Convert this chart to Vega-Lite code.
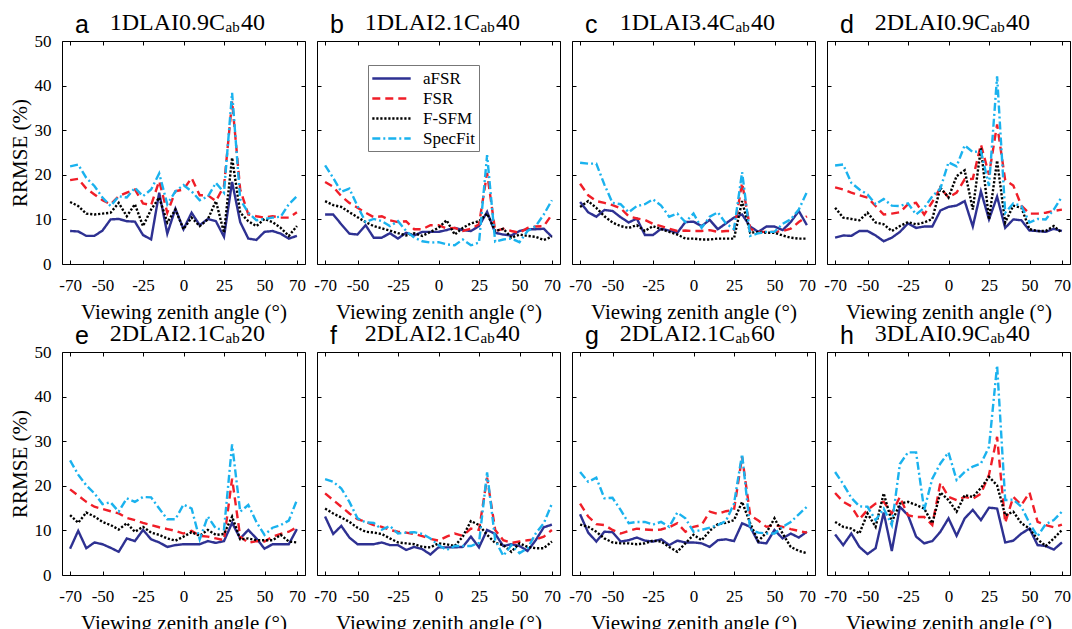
{
"$schema":"https://vega.github.io/schema/vega-lite/v6.json",
"padding":{"left":8,"top":10,"right":2,"bottom":2},
"background":"white",
"datasets":{
"titles":[
{"p":"a","t":"1DLAI0.9C","s":"ab","n":"40"},
{"p":"b","t":"1DLAI2.1C","s":"ab","n":"40"},
{"p":"c","t":"1DLAI3.4C","s":"ab","n":"40"},
{"p":"d","t":"2DLAI0.9C","s":"ab","n":"40"},
{"p":"e","t":"2DLAI2.1C","s":"ab","n":"20"},
{"p":"f","t":"2DLAI2.1C","s":"ab","n":"40"},
{"p":"g","t":"2DLAI2.1C","s":"ab","n":"60"},
{"p":"h","t":"3DLAI0.9C","s":"ab","n":"40"}
],
"rr":[
{"p":"a","m":"aFSR","x":-70,"y":7.4},{"p":"a","m":"aFSR","x":-65,"y":7.3},{"p":"a","m":"aFSR","x":-60,"y":6.3},{"p":"a","m":"aFSR","x":-55,"y":6.3},{"p":"a","m":"aFSR","x":-50,"y":7.5},{"p":"a","m":"aFSR","x":-45,"y":10.0},{"p":"a","m":"aFSR","x":-40,"y":10.1},{"p":"a","m":"aFSR","x":-35,"y":9.6},{"p":"a","m":"aFSR","x":-30,"y":9.5},{"p":"a","m":"aFSR","x":-25,"y":6.5},{"p":"a","m":"aFSR","x":-20,"y":5.5},{"p":"a","m":"aFSR","x":-15,"y":16.0},{"p":"a","m":"aFSR","x":-10,"y":6.8},{"p":"a","m":"aFSR","x":-5,"y":12.4},{"p":"a","m":"aFSR","x":0,"y":7.8},{"p":"a","m":"aFSR","x":5,"y":11.5},{"p":"a","m":"aFSR","x":10,"y":8.7},{"p":"a","m":"aFSR","x":15,"y":10.1},{"p":"a","m":"aFSR","x":20,"y":9.6},{"p":"a","m":"aFSR","x":25,"y":6.1},{"p":"a","m":"aFSR","x":30,"y":18.4},{"p":"a","m":"aFSR","x":35,"y":9.4},{"p":"a","m":"aFSR","x":40,"y":5.7},{"p":"a","m":"aFSR","x":45,"y":5.4},{"p":"a","m":"aFSR","x":50,"y":7.2},{"p":"a","m":"aFSR","x":55,"y":7.4},{"p":"a","m":"aFSR","x":60,"y":6.8},{"p":"a","m":"aFSR","x":65,"y":5.7},{"p":"a","m":"aFSR","x":70,"y":6.3},
{"p":"a","m":"FSR","x":-70,"y":18.8},{"p":"a","m":"FSR","x":-65,"y":19.1},{"p":"a","m":"FSR","x":-60,"y":16.9},{"p":"a","m":"FSR","x":-55,"y":15.6},{"p":"a","m":"FSR","x":-50,"y":14.3},{"p":"a","m":"FSR","x":-45,"y":13.4},{"p":"a","m":"FSR","x":-40,"y":15.2},{"p":"a","m":"FSR","x":-35,"y":16.0},{"p":"a","m":"FSR","x":-30,"y":16.7},{"p":"a","m":"FSR","x":-25,"y":13.6},{"p":"a","m":"FSR","x":-20,"y":13.2},{"p":"a","m":"FSR","x":-15,"y":18.6},{"p":"a","m":"FSR","x":-10,"y":11.5},{"p":"a","m":"FSR","x":-5,"y":16.3},{"p":"a","m":"FSR","x":0,"y":16.7},{"p":"a","m":"FSR","x":5,"y":19.3},{"p":"a","m":"FSR","x":10,"y":15.4},{"p":"a","m":"FSR","x":15,"y":15.4},{"p":"a","m":"FSR","x":20,"y":14.1},{"p":"a","m":"FSR","x":25,"y":17.5},{"p":"a","m":"FSR","x":30,"y":36.5},{"p":"a","m":"FSR","x":35,"y":16.7},{"p":"a","m":"FSR","x":40,"y":11.1},{"p":"a","m":"FSR","x":45,"y":10.7},{"p":"a","m":"FSR","x":50,"y":10.4},{"p":"a","m":"FSR","x":55,"y":10.7},{"p":"a","m":"FSR","x":60,"y":10.4},{"p":"a","m":"FSR","x":65,"y":10.4},{"p":"a","m":"FSR","x":70,"y":11.6},
{"p":"a","m":"F-SFM","x":-70,"y":13.9},{"p":"a","m":"F-SFM","x":-65,"y":13.0},{"p":"a","m":"F-SFM","x":-60,"y":11.3},{"p":"a","m":"F-SFM","x":-55,"y":11.1},{"p":"a","m":"F-SFM","x":-50,"y":11.3},{"p":"a","m":"F-SFM","x":-45,"y":11.5},{"p":"a","m":"F-SFM","x":-40,"y":13.7},{"p":"a","m":"F-SFM","x":-35,"y":10.7},{"p":"a","m":"F-SFM","x":-30,"y":13.4},{"p":"a","m":"F-SFM","x":-25,"y":8.5},{"p":"a","m":"F-SFM","x":-20,"y":12.2},{"p":"a","m":"F-SFM","x":-15,"y":14.9},{"p":"a","m":"F-SFM","x":-10,"y":9.3},{"p":"a","m":"F-SFM","x":-5,"y":12.2},{"p":"a","m":"F-SFM","x":0,"y":7.8},{"p":"a","m":"F-SFM","x":5,"y":10.4},{"p":"a","m":"F-SFM","x":10,"y":8.5},{"p":"a","m":"F-SFM","x":15,"y":10.0},{"p":"a","m":"F-SFM","x":20,"y":14.1},{"p":"a","m":"F-SFM","x":25,"y":7.0},{"p":"a","m":"F-SFM","x":30,"y":23.8},{"p":"a","m":"F-SFM","x":35,"y":11.5},{"p":"a","m":"F-SFM","x":40,"y":9.6},{"p":"a","m":"F-SFM","x":45,"y":8.5},{"p":"a","m":"F-SFM","x":50,"y":10.1},{"p":"a","m":"F-SFM","x":55,"y":9.4},{"p":"a","m":"F-SFM","x":60,"y":8.1},{"p":"a","m":"F-SFM","x":65,"y":6.3},{"p":"a","m":"F-SFM","x":70,"y":8.5},
{"p":"a","m":"SpecFit","x":-70,"y":21.9},{"p":"a","m":"SpecFit","x":-65,"y":22.3},{"p":"a","m":"SpecFit","x":-60,"y":19.3},{"p":"a","m":"SpecFit","x":-55,"y":17.5},{"p":"a","m":"SpecFit","x":-50,"y":14.9},{"p":"a","m":"SpecFit","x":-45,"y":13.0},{"p":"a","m":"SpecFit","x":-40,"y":15.2},{"p":"a","m":"SpecFit","x":-35,"y":14.9},{"p":"a","m":"SpecFit","x":-30,"y":17.1},{"p":"a","m":"SpecFit","x":-25,"y":15.2},{"p":"a","m":"SpecFit","x":-20,"y":16.7},{"p":"a","m":"SpecFit","x":-15,"y":20.3},{"p":"a","m":"SpecFit","x":-10,"y":13.4},{"p":"a","m":"SpecFit","x":-5,"y":16.3},{"p":"a","m":"SpecFit","x":0,"y":17.7},{"p":"a","m":"SpecFit","x":5,"y":16.3},{"p":"a","m":"SpecFit","x":10,"y":14.3},{"p":"a","m":"SpecFit","x":15,"y":15.1},{"p":"a","m":"SpecFit","x":20,"y":18.2},{"p":"a","m":"SpecFit","x":25,"y":16.0},{"p":"a","m":"SpecFit","x":30,"y":38.4},{"p":"a","m":"SpecFit","x":35,"y":14.5},{"p":"a","m":"SpecFit","x":40,"y":11.5},{"p":"a","m":"SpecFit","x":45,"y":9.8},{"p":"a","m":"SpecFit","x":50,"y":10.1},{"p":"a","m":"SpecFit","x":55,"y":10.4},{"p":"a","m":"SpecFit","x":60,"y":10.6},{"p":"a","m":"SpecFit","x":65,"y":13.4},{"p":"a","m":"SpecFit","x":70,"y":15.2},
{"p":"b","m":"aFSR","x":-70,"y":11.1},{"p":"b","m":"aFSR","x":-65,"y":11.1},{"p":"b","m":"aFSR","x":-60,"y":8.9},{"p":"b","m":"aFSR","x":-55,"y":6.8},{"p":"b","m":"aFSR","x":-50,"y":6.6},{"p":"b","m":"aFSR","x":-45,"y":8.7},{"p":"b","m":"aFSR","x":-40,"y":5.9},{"p":"b","m":"aFSR","x":-35,"y":5.9},{"p":"b","m":"aFSR","x":-30,"y":6.9},{"p":"b","m":"aFSR","x":-25,"y":5.7},{"p":"b","m":"aFSR","x":-20,"y":7.0},{"p":"b","m":"aFSR","x":-15,"y":6.4},{"p":"b","m":"aFSR","x":-10,"y":7.2},{"p":"b","m":"aFSR","x":-5,"y":7.2},{"p":"b","m":"aFSR","x":0,"y":7.2},{"p":"b","m":"aFSR","x":5,"y":7.6},{"p":"b","m":"aFSR","x":10,"y":8.1},{"p":"b","m":"aFSR","x":15,"y":7.6},{"p":"b","m":"aFSR","x":20,"y":7.4},{"p":"b","m":"aFSR","x":25,"y":8.5},{"p":"b","m":"aFSR","x":30,"y":11.7},{"p":"b","m":"aFSR","x":35,"y":7.0},{"p":"b","m":"aFSR","x":40,"y":6.6},{"p":"b","m":"aFSR","x":45,"y":6.4},{"p":"b","m":"aFSR","x":50,"y":7.4},{"p":"b","m":"aFSR","x":55,"y":7.8},{"p":"b","m":"aFSR","x":60,"y":7.8},{"p":"b","m":"aFSR","x":65,"y":7.9},{"p":"b","m":"aFSR","x":70,"y":6.1},
{"p":"b","m":"FSR","x":-70,"y":18.4},{"p":"b","m":"FSR","x":-65,"y":17.3},{"p":"b","m":"FSR","x":-60,"y":15.2},{"p":"b","m":"FSR","x":-55,"y":13.7},{"p":"b","m":"FSR","x":-50,"y":12.6},{"p":"b","m":"FSR","x":-45,"y":11.5},{"p":"b","m":"FSR","x":-40,"y":10.5},{"p":"b","m":"FSR","x":-35,"y":10.7},{"p":"b","m":"FSR","x":-30,"y":9.8},{"p":"b","m":"FSR","x":-25,"y":9.4},{"p":"b","m":"FSR","x":-20,"y":9.6},{"p":"b","m":"FSR","x":-15,"y":7.8},{"p":"b","m":"FSR","x":-10,"y":7.8},{"p":"b","m":"FSR","x":-5,"y":8.7},{"p":"b","m":"FSR","x":0,"y":8.7},{"p":"b","m":"FSR","x":5,"y":8.0},{"p":"b","m":"FSR","x":10,"y":8.1},{"p":"b","m":"FSR","x":15,"y":7.4},{"p":"b","m":"FSR","x":20,"y":7.9},{"p":"b","m":"FSR","x":25,"y":8.9},{"p":"b","m":"FSR","x":30,"y":20.4},{"p":"b","m":"FSR","x":35,"y":7.4},{"p":"b","m":"FSR","x":40,"y":7.9},{"p":"b","m":"FSR","x":45,"y":7.4},{"p":"b","m":"FSR","x":50,"y":7.0},{"p":"b","m":"FSR","x":55,"y":8.1},{"p":"b","m":"FSR","x":60,"y":8.4},{"p":"b","m":"FSR","x":65,"y":8.5},{"p":"b","m":"FSR","x":70,"y":11.1},
{"p":"b","m":"F-SFM","x":-70,"y":14.1},{"p":"b","m":"F-SFM","x":-65,"y":13.2},{"p":"b","m":"F-SFM","x":-60,"y":12.8},{"p":"b","m":"F-SFM","x":-55,"y":11.6},{"p":"b","m":"F-SFM","x":-50,"y":10.5},{"p":"b","m":"F-SFM","x":-45,"y":9.4},{"p":"b","m":"F-SFM","x":-40,"y":8.5},{"p":"b","m":"F-SFM","x":-35,"y":8.0},{"p":"b","m":"F-SFM","x":-30,"y":7.5},{"p":"b","m":"F-SFM","x":-25,"y":6.9},{"p":"b","m":"F-SFM","x":-20,"y":6.4},{"p":"b","m":"F-SFM","x":-15,"y":6.9},{"p":"b","m":"F-SFM","x":-10,"y":6.3},{"p":"b","m":"F-SFM","x":-5,"y":7.2},{"p":"b","m":"F-SFM","x":0,"y":8.1},{"p":"b","m":"F-SFM","x":5,"y":9.8},{"p":"b","m":"F-SFM","x":10,"y":6.6},{"p":"b","m":"F-SFM","x":15,"y":8.1},{"p":"b","m":"F-SFM","x":20,"y":9.1},{"p":"b","m":"F-SFM","x":25,"y":9.6},{"p":"b","m":"F-SFM","x":30,"y":11.3},{"p":"b","m":"F-SFM","x":35,"y":7.4},{"p":"b","m":"F-SFM","x":40,"y":7.9},{"p":"b","m":"F-SFM","x":45,"y":5.9},{"p":"b","m":"F-SFM","x":50,"y":6.6},{"p":"b","m":"F-SFM","x":55,"y":6.3},{"p":"b","m":"F-SFM","x":60,"y":6.1},{"p":"b","m":"F-SFM","x":65,"y":5.4},{"p":"b","m":"F-SFM","x":70,"y":6.1},
{"p":"b","m":"SpecFit","x":-70,"y":22.1},{"p":"b","m":"SpecFit","x":-65,"y":19.3},{"p":"b","m":"SpecFit","x":-60,"y":16.2},{"p":"b","m":"SpecFit","x":-55,"y":16.9},{"p":"b","m":"SpecFit","x":-50,"y":13.0},{"p":"b","m":"SpecFit","x":-45,"y":9.4},{"p":"b","m":"SpecFit","x":-40,"y":10.1},{"p":"b","m":"SpecFit","x":-35,"y":9.6},{"p":"b","m":"SpecFit","x":-30,"y":8.5},{"p":"b","m":"SpecFit","x":-25,"y":9.6},{"p":"b","m":"SpecFit","x":-20,"y":7.4},{"p":"b","m":"SpecFit","x":-15,"y":5.9},{"p":"b","m":"SpecFit","x":-10,"y":5.1},{"p":"b","m":"SpecFit","x":-5,"y":4.8},{"p":"b","m":"SpecFit","x":0,"y":4.9},{"p":"b","m":"SpecFit","x":5,"y":4.4},{"p":"b","m":"SpecFit","x":10,"y":4.2},{"p":"b","m":"SpecFit","x":15,"y":5.5},{"p":"b","m":"SpecFit","x":20,"y":4.2},{"p":"b","m":"SpecFit","x":25,"y":4.8},{"p":"b","m":"SpecFit","x":30,"y":24.4},{"p":"b","m":"SpecFit","x":35,"y":5.0},{"p":"b","m":"SpecFit","x":40,"y":5.5},{"p":"b","m":"SpecFit","x":45,"y":5.7},{"p":"b","m":"SpecFit","x":50,"y":4.9},{"p":"b","m":"SpecFit","x":55,"y":7.4},{"p":"b","m":"SpecFit","x":60,"y":8.5},{"p":"b","m":"SpecFit","x":65,"y":11.1},{"p":"b","m":"SpecFit","x":70,"y":14.3},
{"p":"c","m":"aFSR","x":-70,"y":13.9},{"p":"c","m":"aFSR","x":-65,"y":11.6},{"p":"c","m":"aFSR","x":-60,"y":10.6},{"p":"c","m":"aFSR","x":-55,"y":12.1},{"p":"c","m":"aFSR","x":-50,"y":11.9},{"p":"c","m":"aFSR","x":-45,"y":10.5},{"p":"c","m":"aFSR","x":-40,"y":9.3},{"p":"c","m":"aFSR","x":-35,"y":10.2},{"p":"c","m":"aFSR","x":-30,"y":6.5},{"p":"c","m":"aFSR","x":-25,"y":6.5},{"p":"c","m":"aFSR","x":-20,"y":7.9},{"p":"c","m":"aFSR","x":-15,"y":7.5},{"p":"c","m":"aFSR","x":-10,"y":7.0},{"p":"c","m":"aFSR","x":-5,"y":9.4},{"p":"c","m":"aFSR","x":0,"y":9.5},{"p":"c","m":"aFSR","x":5,"y":8.5},{"p":"c","m":"aFSR","x":10,"y":9.9},{"p":"c","m":"aFSR","x":15,"y":7.8},{"p":"c","m":"aFSR","x":20,"y":9.1},{"p":"c","m":"aFSR","x":25,"y":10.4},{"p":"c","m":"aFSR","x":30,"y":11.1},{"p":"c","m":"aFSR","x":35,"y":8.4},{"p":"c","m":"aFSR","x":40,"y":7.2},{"p":"c","m":"aFSR","x":45,"y":8.4},{"p":"c","m":"aFSR","x":50,"y":8.4},{"p":"c","m":"aFSR","x":55,"y":7.6},{"p":"c","m":"aFSR","x":60,"y":9.4},{"p":"c","m":"aFSR","x":65,"y":11.9},{"p":"c","m":"aFSR","x":70,"y":8.7},
{"p":"c","m":"FSR","x":-70,"y":18.0},{"p":"c","m":"FSR","x":-65,"y":15.4},{"p":"c","m":"FSR","x":-60,"y":14.1},{"p":"c","m":"FSR","x":-55,"y":13.7},{"p":"c","m":"FSR","x":-50,"y":13.2},{"p":"c","m":"FSR","x":-45,"y":12.5},{"p":"c","m":"FSR","x":-40,"y":10.7},{"p":"c","m":"FSR","x":-35,"y":10.2},{"p":"c","m":"FSR","x":-30,"y":9.9},{"p":"c","m":"FSR","x":-25,"y":9.0},{"p":"c","m":"FSR","x":-20,"y":8.5},{"p":"c","m":"FSR","x":-15,"y":7.9},{"p":"c","m":"FSR","x":-10,"y":7.4},{"p":"c","m":"FSR","x":-5,"y":7.5},{"p":"c","m":"FSR","x":0,"y":7.4},{"p":"c","m":"FSR","x":5,"y":7.4},{"p":"c","m":"FSR","x":10,"y":7.6},{"p":"c","m":"FSR","x":15,"y":7.2},{"p":"c","m":"FSR","x":20,"y":7.4},{"p":"c","m":"FSR","x":25,"y":7.4},{"p":"c","m":"FSR","x":30,"y":18.2},{"p":"c","m":"FSR","x":35,"y":7.9},{"p":"c","m":"FSR","x":40,"y":7.2},{"p":"c","m":"FSR","x":45,"y":7.2},{"p":"c","m":"FSR","x":50,"y":7.2},{"p":"c","m":"FSR","x":55,"y":7.4},{"p":"c","m":"FSR","x":60,"y":7.9},{"p":"c","m":"FSR","x":65,"y":9.4},{"p":"c","m":"FSR","x":70,"y":10.7},
{"p":"c","m":"F-SFM","x":-70,"y":12.8},{"p":"c","m":"F-SFM","x":-65,"y":14.1},{"p":"c","m":"F-SFM","x":-60,"y":12.6},{"p":"c","m":"F-SFM","x":-55,"y":10.7},{"p":"c","m":"F-SFM","x":-50,"y":9.3},{"p":"c","m":"F-SFM","x":-45,"y":8.5},{"p":"c","m":"F-SFM","x":-40,"y":8.1},{"p":"c","m":"F-SFM","x":-35,"y":8.7},{"p":"c","m":"F-SFM","x":-30,"y":7.4},{"p":"c","m":"F-SFM","x":-25,"y":8.5},{"p":"c","m":"F-SFM","x":-20,"y":7.8},{"p":"c","m":"F-SFM","x":-15,"y":7.2},{"p":"c","m":"F-SFM","x":-10,"y":6.6},{"p":"c","m":"F-SFM","x":-5,"y":5.7},{"p":"c","m":"F-SFM","x":0,"y":5.7},{"p":"c","m":"F-SFM","x":5,"y":5.5},{"p":"c","m":"F-SFM","x":10,"y":5.5},{"p":"c","m":"F-SFM","x":15,"y":5.7},{"p":"c","m":"F-SFM","x":20,"y":5.7},{"p":"c","m":"F-SFM","x":25,"y":5.7},{"p":"c","m":"F-SFM","x":30,"y":14.1},{"p":"c","m":"F-SFM","x":35,"y":7.0},{"p":"c","m":"F-SFM","x":40,"y":7.2},{"p":"c","m":"F-SFM","x":45,"y":7.0},{"p":"c","m":"F-SFM","x":50,"y":7.0},{"p":"c","m":"F-SFM","x":55,"y":6.4},{"p":"c","m":"F-SFM","x":60,"y":5.9},{"p":"c","m":"F-SFM","x":65,"y":5.7},{"p":"c","m":"F-SFM","x":70,"y":5.7},
{"p":"c","m":"SpecFit","x":-70,"y":22.7},{"p":"c","m":"SpecFit","x":-65,"y":22.5},{"p":"c","m":"SpecFit","x":-60,"y":22.5},{"p":"c","m":"SpecFit","x":-55,"y":17.8},{"p":"c","m":"SpecFit","x":-50,"y":13.7},{"p":"c","m":"SpecFit","x":-45,"y":13.4},{"p":"c","m":"SpecFit","x":-40,"y":11.6},{"p":"c","m":"SpecFit","x":-35,"y":13.0},{"p":"c","m":"SpecFit","x":-30,"y":13.4},{"p":"c","m":"SpecFit","x":-25,"y":14.5},{"p":"c","m":"SpecFit","x":-20,"y":13.1},{"p":"c","m":"SpecFit","x":-15,"y":10.6},{"p":"c","m":"SpecFit","x":-10,"y":11.3},{"p":"c","m":"SpecFit","x":-5,"y":9.4},{"p":"c","m":"SpecFit","x":0,"y":11.3},{"p":"c","m":"SpecFit","x":5,"y":8.1},{"p":"c","m":"SpecFit","x":10,"y":10.6},{"p":"c","m":"SpecFit","x":15,"y":11.6},{"p":"c","m":"SpecFit","x":20,"y":9.1},{"p":"c","m":"SpecFit","x":25,"y":7.8},{"p":"c","m":"SpecFit","x":30,"y":20.6},{"p":"c","m":"SpecFit","x":35,"y":6.3},{"p":"c","m":"SpecFit","x":40,"y":6.9},{"p":"c","m":"SpecFit","x":45,"y":7.2},{"p":"c","m":"SpecFit","x":50,"y":7.2},{"p":"c","m":"SpecFit","x":55,"y":9.0},{"p":"c","m":"SpecFit","x":60,"y":10.0},{"p":"c","m":"SpecFit","x":65,"y":12.2},{"p":"c","m":"SpecFit","x":70,"y":16.1},
{"p":"d","m":"aFSR","x":-70,"y":5.9},{"p":"d","m":"aFSR","x":-65,"y":6.4},{"p":"d","m":"aFSR","x":-60,"y":6.3},{"p":"d","m":"aFSR","x":-55,"y":7.4},{"p":"d","m":"aFSR","x":-50,"y":7.4},{"p":"d","m":"aFSR","x":-45,"y":6.4},{"p":"d","m":"aFSR","x":-40,"y":5.1},{"p":"d","m":"aFSR","x":-35,"y":5.9},{"p":"d","m":"aFSR","x":-30,"y":7.2},{"p":"d","m":"aFSR","x":-25,"y":9.1},{"p":"d","m":"aFSR","x":-20,"y":8.1},{"p":"d","m":"aFSR","x":-15,"y":8.4},{"p":"d","m":"aFSR","x":-10,"y":8.4},{"p":"d","m":"aFSR","x":-5,"y":12.0},{"p":"d","m":"aFSR","x":0,"y":12.8},{"p":"d","m":"aFSR","x":5,"y":13.1},{"p":"d","m":"aFSR","x":10,"y":14.1},{"p":"d","m":"aFSR","x":15,"y":8.4},{"p":"d","m":"aFSR","x":20,"y":16.3},{"p":"d","m":"aFSR","x":25,"y":10.0},{"p":"d","m":"aFSR","x":30,"y":15.1},{"p":"d","m":"aFSR","x":35,"y":8.1},{"p":"d","m":"aFSR","x":40,"y":10.0},{"p":"d","m":"aFSR","x":45,"y":9.8},{"p":"d","m":"aFSR","x":50,"y":7.5},{"p":"d","m":"aFSR","x":55,"y":7.4},{"p":"d","m":"aFSR","x":60,"y":7.2},{"p":"d","m":"aFSR","x":65,"y":7.9},{"p":"d","m":"aFSR","x":70,"y":7.4},
{"p":"d","m":"FSR","x":-70,"y":17.2},{"p":"d","m":"FSR","x":-65,"y":16.7},{"p":"d","m":"FSR","x":-60,"y":16.0},{"p":"d","m":"FSR","x":-55,"y":15.4},{"p":"d","m":"FSR","x":-50,"y":14.9},{"p":"d","m":"FSR","x":-45,"y":13.0},{"p":"d","m":"FSR","x":-40,"y":11.1},{"p":"d","m":"FSR","x":-35,"y":11.3},{"p":"d","m":"FSR","x":-30,"y":11.6},{"p":"d","m":"FSR","x":-25,"y":13.4},{"p":"d","m":"FSR","x":-20,"y":13.7},{"p":"d","m":"FSR","x":-15,"y":11.1},{"p":"d","m":"FSR","x":-10,"y":13.9},{"p":"d","m":"FSR","x":-5,"y":17.1},{"p":"d","m":"FSR","x":0,"y":14.9},{"p":"d","m":"FSR","x":5,"y":16.0},{"p":"d","m":"FSR","x":10,"y":19.0},{"p":"d","m":"FSR","x":15,"y":19.1},{"p":"d","m":"FSR","x":20,"y":26.8},{"p":"d","m":"FSR","x":25,"y":20.0},{"p":"d","m":"FSR","x":30,"y":31.3},{"p":"d","m":"FSR","x":35,"y":18.8},{"p":"d","m":"FSR","x":40,"y":17.6},{"p":"d","m":"FSR","x":45,"y":13.1},{"p":"d","m":"FSR","x":50,"y":11.3},{"p":"d","m":"FSR","x":55,"y":11.3},{"p":"d","m":"FSR","x":60,"y":11.5},{"p":"d","m":"FSR","x":65,"y":11.9},{"p":"d","m":"FSR","x":70,"y":12.2},
{"p":"d","m":"F-SFM","x":-70,"y":12.6},{"p":"d","m":"F-SFM","x":-65,"y":10.4},{"p":"d","m":"F-SFM","x":-60,"y":10.1},{"p":"d","m":"F-SFM","x":-55,"y":9.8},{"p":"d","m":"F-SFM","x":-50,"y":11.5},{"p":"d","m":"F-SFM","x":-45,"y":9.3},{"p":"d","m":"F-SFM","x":-40,"y":8.9},{"p":"d","m":"F-SFM","x":-35,"y":7.4},{"p":"d","m":"F-SFM","x":-30,"y":8.5},{"p":"d","m":"F-SFM","x":-25,"y":9.4},{"p":"d","m":"F-SFM","x":-20,"y":8.9},{"p":"d","m":"F-SFM","x":-15,"y":9.3},{"p":"d","m":"F-SFM","x":-10,"y":10.1},{"p":"d","m":"F-SFM","x":-5,"y":17.1},{"p":"d","m":"F-SFM","x":0,"y":14.9},{"p":"d","m":"F-SFM","x":5,"y":19.7},{"p":"d","m":"F-SFM","x":10,"y":21.0},{"p":"d","m":"F-SFM","x":15,"y":12.2},{"p":"d","m":"F-SFM","x":20,"y":26.0},{"p":"d","m":"F-SFM","x":25,"y":10.0},{"p":"d","m":"F-SFM","x":30,"y":23.2},{"p":"d","m":"F-SFM","x":35,"y":9.3},{"p":"d","m":"F-SFM","x":40,"y":13.1},{"p":"d","m":"F-SFM","x":45,"y":12.6},{"p":"d","m":"F-SFM","x":50,"y":7.8},{"p":"d","m":"F-SFM","x":55,"y":7.4},{"p":"d","m":"F-SFM","x":60,"y":7.4},{"p":"d","m":"F-SFM","x":65,"y":8.5},{"p":"d","m":"F-SFM","x":70,"y":7.0},
{"p":"d","m":"SpecFit","x":-70,"y":22.1},{"p":"d","m":"SpecFit","x":-65,"y":22.3},{"p":"d","m":"SpecFit","x":-60,"y":18.2},{"p":"d","m":"SpecFit","x":-55,"y":16.7},{"p":"d","m":"SpecFit","x":-50,"y":15.6},{"p":"d","m":"SpecFit","x":-45,"y":13.4},{"p":"d","m":"SpecFit","x":-40,"y":14.6},{"p":"d","m":"SpecFit","x":-35,"y":13.1},{"p":"d","m":"SpecFit","x":-30,"y":13.0},{"p":"d","m":"SpecFit","x":-25,"y":13.6},{"p":"d","m":"SpecFit","x":-20,"y":11.1},{"p":"d","m":"SpecFit","x":-15,"y":12.6},{"p":"d","m":"SpecFit","x":-10,"y":15.2},{"p":"d","m":"SpecFit","x":-5,"y":16.9},{"p":"d","m":"SpecFit","x":0,"y":22.8},{"p":"d","m":"SpecFit","x":5,"y":21.9},{"p":"d","m":"SpecFit","x":10,"y":26.6},{"p":"d","m":"SpecFit","x":15,"y":25.1},{"p":"d","m":"SpecFit","x":20,"y":25.3},{"p":"d","m":"SpecFit","x":25,"y":17.5},{"p":"d","m":"SpecFit","x":30,"y":42.1},{"p":"d","m":"SpecFit","x":35,"y":11.5},{"p":"d","m":"SpecFit","x":40,"y":13.6},{"p":"d","m":"SpecFit","x":45,"y":13.0},{"p":"d","m":"SpecFit","x":50,"y":9.3},{"p":"d","m":"SpecFit","x":55,"y":10.1},{"p":"d","m":"SpecFit","x":60,"y":10.0},{"p":"d","m":"SpecFit","x":65,"y":12.2},{"p":"d","m":"SpecFit","x":70,"y":15.1},
{"p":"e","m":"aFSR","x":-70,"y":5.9},{"p":"e","m":"aFSR","x":-65,"y":9.9},{"p":"e","m":"aFSR","x":-60,"y":6.0},{"p":"e","m":"aFSR","x":-55,"y":7.3},{"p":"e","m":"aFSR","x":-50,"y":6.9},{"p":"e","m":"aFSR","x":-45,"y":6.1},{"p":"e","m":"aFSR","x":-40,"y":5.2},{"p":"e","m":"aFSR","x":-35,"y":8.2},{"p":"e","m":"aFSR","x":-30,"y":7.6},{"p":"e","m":"aFSR","x":-25,"y":10.1},{"p":"e","m":"aFSR","x":-20,"y":8.0},{"p":"e","m":"aFSR","x":-15,"y":7.3},{"p":"e","m":"aFSR","x":-10,"y":6.3},{"p":"e","m":"aFSR","x":-5,"y":6.7},{"p":"e","m":"aFSR","x":0,"y":6.9},{"p":"e","m":"aFSR","x":5,"y":6.9},{"p":"e","m":"aFSR","x":10,"y":6.9},{"p":"e","m":"aFSR","x":15,"y":7.6},{"p":"e","m":"aFSR","x":20,"y":7.2},{"p":"e","m":"aFSR","x":25,"y":7.6},{"p":"e","m":"aFSR","x":30,"y":11.7},{"p":"e","m":"aFSR","x":35,"y":8.2},{"p":"e","m":"aFSR","x":40,"y":10.1},{"p":"e","m":"aFSR","x":45,"y":8.2},{"p":"e","m":"aFSR","x":50,"y":5.9},{"p":"e","m":"aFSR","x":55,"y":6.9},{"p":"e","m":"aFSR","x":60,"y":6.9},{"p":"e","m":"aFSR","x":65,"y":6.9},{"p":"e","m":"aFSR","x":70,"y":10.3},
{"p":"e","m":"FSR","x":-70,"y":19.2},{"p":"e","m":"FSR","x":-65,"y":17.8},{"p":"e","m":"FSR","x":-60,"y":16.4},{"p":"e","m":"FSR","x":-55,"y":15.3},{"p":"e","m":"FSR","x":-50,"y":14.8},{"p":"e","m":"FSR","x":-45,"y":14.3},{"p":"e","m":"FSR","x":-40,"y":13.8},{"p":"e","m":"FSR","x":-35,"y":12.8},{"p":"e","m":"FSR","x":-30,"y":12.3},{"p":"e","m":"FSR","x":-25,"y":11.7},{"p":"e","m":"FSR","x":-20,"y":11.2},{"p":"e","m":"FSR","x":-15,"y":10.7},{"p":"e","m":"FSR","x":-10,"y":10.3},{"p":"e","m":"FSR","x":-5,"y":9.9},{"p":"e","m":"FSR","x":0,"y":9.3},{"p":"e","m":"FSR","x":5,"y":9.9},{"p":"e","m":"FSR","x":10,"y":8.8},{"p":"e","m":"FSR","x":15,"y":8.6},{"p":"e","m":"FSR","x":20,"y":8.2},{"p":"e","m":"FSR","x":25,"y":7.8},{"p":"e","m":"FSR","x":30,"y":21.6},{"p":"e","m":"FSR","x":35,"y":8.6},{"p":"e","m":"FSR","x":40,"y":7.2},{"p":"e","m":"FSR","x":45,"y":7.6},{"p":"e","m":"FSR","x":50,"y":7.5},{"p":"e","m":"FSR","x":55,"y":8.6},{"p":"e","m":"FSR","x":60,"y":9.2},{"p":"e","m":"FSR","x":65,"y":9.7},{"p":"e","m":"FSR","x":70,"y":10.7},
{"p":"e","m":"F-SFM","x":-70,"y":13.4},{"p":"e","m":"F-SFM","x":-65,"y":11.7},{"p":"e","m":"F-SFM","x":-60,"y":14.0},{"p":"e","m":"F-SFM","x":-55,"y":13.1},{"p":"e","m":"F-SFM","x":-50,"y":11.9},{"p":"e","m":"F-SFM","x":-45,"y":11.2},{"p":"e","m":"F-SFM","x":-40,"y":10.2},{"p":"e","m":"F-SFM","x":-35,"y":11.6},{"p":"e","m":"F-SFM","x":-30,"y":9.7},{"p":"e","m":"F-SFM","x":-25,"y":10.8},{"p":"e","m":"F-SFM","x":-20,"y":9.5},{"p":"e","m":"F-SFM","x":-15,"y":9.0},{"p":"e","m":"F-SFM","x":-10,"y":8.2},{"p":"e","m":"F-SFM","x":-5,"y":7.7},{"p":"e","m":"F-SFM","x":0,"y":8.6},{"p":"e","m":"F-SFM","x":5,"y":9.6},{"p":"e","m":"F-SFM","x":10,"y":8.8},{"p":"e","m":"F-SFM","x":15,"y":10.1},{"p":"e","m":"F-SFM","x":20,"y":9.0},{"p":"e","m":"F-SFM","x":25,"y":9.2},{"p":"e","m":"F-SFM","x":30,"y":13.1},{"p":"e","m":"F-SFM","x":35,"y":8.0},{"p":"e","m":"F-SFM","x":40,"y":8.2},{"p":"e","m":"F-SFM","x":45,"y":7.8},{"p":"e","m":"F-SFM","x":50,"y":7.8},{"p":"e","m":"F-SFM","x":55,"y":7.8},{"p":"e","m":"F-SFM","x":60,"y":9.0},{"p":"e","m":"F-SFM","x":65,"y":7.5},{"p":"e","m":"F-SFM","x":70,"y":7.3},
{"p":"e","m":"SpecFit","x":-70,"y":25.7},{"p":"e","m":"SpecFit","x":-65,"y":22.5},{"p":"e","m":"SpecFit","x":-60,"y":20.1},{"p":"e","m":"SpecFit","x":-55,"y":18.3},{"p":"e","m":"SpecFit","x":-50,"y":15.9},{"p":"e","m":"SpecFit","x":-45,"y":16.3},{"p":"e","m":"SpecFit","x":-40,"y":14.2},{"p":"e","m":"SpecFit","x":-35,"y":17.2},{"p":"e","m":"SpecFit","x":-30,"y":16.4},{"p":"e","m":"SpecFit","x":-25,"y":17.5},{"p":"e","m":"SpecFit","x":-20,"y":17.4},{"p":"e","m":"SpecFit","x":-15,"y":14.9},{"p":"e","m":"SpecFit","x":-10,"y":12.5},{"p":"e","m":"SpecFit","x":-5,"y":12.5},{"p":"e","m":"SpecFit","x":0,"y":15.8},{"p":"e","m":"SpecFit","x":5,"y":14.9},{"p":"e","m":"SpecFit","x":10,"y":8.0},{"p":"e","m":"SpecFit","x":15,"y":13.1},{"p":"e","m":"SpecFit","x":20,"y":10.4},{"p":"e","m":"SpecFit","x":25,"y":10.2},{"p":"e","m":"SpecFit","x":30,"y":29.3},{"p":"e","m":"SpecFit","x":35,"y":14.2},{"p":"e","m":"SpecFit","x":40,"y":15.7},{"p":"e","m":"SpecFit","x":45,"y":11.9},{"p":"e","m":"SpecFit","x":50,"y":9.0},{"p":"e","m":"SpecFit","x":55,"y":10.6},{"p":"e","m":"SpecFit","x":60,"y":11.2},{"p":"e","m":"SpecFit","x":65,"y":12.2},{"p":"e","m":"SpecFit","x":70,"y":16.8},
{"p":"f","m":"aFSR","x":-70,"y":13.1},{"p":"f","m":"aFSR","x":-65,"y":9.2},{"p":"f","m":"aFSR","x":-60,"y":11.0},{"p":"f","m":"aFSR","x":-55,"y":8.4},{"p":"f","m":"aFSR","x":-50,"y":6.9},{"p":"f","m":"aFSR","x":-45,"y":6.9},{"p":"f","m":"aFSR","x":-40,"y":6.9},{"p":"f","m":"aFSR","x":-35,"y":7.3},{"p":"f","m":"aFSR","x":-30,"y":6.7},{"p":"f","m":"aFSR","x":-25,"y":6.7},{"p":"f","m":"aFSR","x":-20,"y":5.6},{"p":"f","m":"aFSR","x":-15,"y":6.3},{"p":"f","m":"aFSR","x":-10,"y":5.8},{"p":"f","m":"aFSR","x":-5,"y":4.6},{"p":"f","m":"aFSR","x":0,"y":6.2},{"p":"f","m":"aFSR","x":5,"y":6.2},{"p":"f","m":"aFSR","x":10,"y":6.2},{"p":"f","m":"aFSR","x":15,"y":6.3},{"p":"f","m":"aFSR","x":20,"y":8.6},{"p":"f","m":"aFSR","x":25,"y":6.2},{"p":"f","m":"aFSR","x":30,"y":10.1},{"p":"f","m":"aFSR","x":35,"y":9.2},{"p":"f","m":"aFSR","x":40,"y":6.5},{"p":"f","m":"aFSR","x":45,"y":6.9},{"p":"f","m":"aFSR","x":50,"y":6.5},{"p":"f","m":"aFSR","x":55,"y":5.4},{"p":"f","m":"aFSR","x":60,"y":7.8},{"p":"f","m":"aFSR","x":65,"y":10.7},{"p":"f","m":"aFSR","x":70,"y":11.3},
{"p":"f","m":"FSR","x":-70,"y":18.3},{"p":"f","m":"FSR","x":-65,"y":16.8},{"p":"f","m":"FSR","x":-60,"y":15.3},{"p":"f","m":"FSR","x":-55,"y":13.8},{"p":"f","m":"FSR","x":-50,"y":12.5},{"p":"f","m":"FSR","x":-45,"y":11.9},{"p":"f","m":"FSR","x":-40,"y":11.2},{"p":"f","m":"FSR","x":-35,"y":10.8},{"p":"f","m":"FSR","x":-30,"y":10.1},{"p":"f","m":"FSR","x":-25,"y":9.7},{"p":"f","m":"FSR","x":-20,"y":9.5},{"p":"f","m":"FSR","x":-15,"y":9.2},{"p":"f","m":"FSR","x":-10,"y":8.7},{"p":"f","m":"FSR","x":-5,"y":8.1},{"p":"f","m":"FSR","x":0,"y":7.7},{"p":"f","m":"FSR","x":5,"y":8.6},{"p":"f","m":"FSR","x":10,"y":9.3},{"p":"f","m":"FSR","x":15,"y":8.8},{"p":"f","m":"FSR","x":20,"y":10.4},{"p":"f","m":"FSR","x":25,"y":10.1},{"p":"f","m":"FSR","x":30,"y":21.8},{"p":"f","m":"FSR","x":35,"y":10.1},{"p":"f","m":"FSR","x":40,"y":7.8},{"p":"f","m":"FSR","x":45,"y":7.2},{"p":"f","m":"FSR","x":50,"y":7.5},{"p":"f","m":"FSR","x":55,"y":7.8},{"p":"f","m":"FSR","x":60,"y":8.0},{"p":"f","m":"FSR","x":65,"y":8.6},{"p":"f","m":"FSR","x":70,"y":10.1},
{"p":"f","m":"F-SFM","x":-70,"y":14.9},{"p":"f","m":"F-SFM","x":-65,"y":13.8},{"p":"f","m":"F-SFM","x":-60,"y":12.9},{"p":"f","m":"F-SFM","x":-55,"y":11.9},{"p":"f","m":"F-SFM","x":-50,"y":10.6},{"p":"f","m":"F-SFM","x":-45,"y":9.7},{"p":"f","m":"F-SFM","x":-40,"y":9.5},{"p":"f","m":"F-SFM","x":-35,"y":9.2},{"p":"f","m":"F-SFM","x":-30,"y":8.2},{"p":"f","m":"F-SFM","x":-25,"y":7.3},{"p":"f","m":"F-SFM","x":-20,"y":7.1},{"p":"f","m":"F-SFM","x":-15,"y":6.9},{"p":"f","m":"F-SFM","x":-10,"y":6.3},{"p":"f","m":"F-SFM","x":-5,"y":6.2},{"p":"f","m":"F-SFM","x":0,"y":7.1},{"p":"f","m":"F-SFM","x":5,"y":6.9},{"p":"f","m":"F-SFM","x":10,"y":6.5},{"p":"f","m":"F-SFM","x":15,"y":8.6},{"p":"f","m":"F-SFM","x":20,"y":12.1},{"p":"f","m":"F-SFM","x":25,"y":11.2},{"p":"f","m":"F-SFM","x":30,"y":9.0},{"p":"f","m":"F-SFM","x":35,"y":7.2},{"p":"f","m":"F-SFM","x":40,"y":6.7},{"p":"f","m":"F-SFM","x":45,"y":5.2},{"p":"f","m":"F-SFM","x":50,"y":7.1},{"p":"f","m":"F-SFM","x":55,"y":6.3},{"p":"f","m":"F-SFM","x":60,"y":6.0},{"p":"f","m":"F-SFM","x":65,"y":6.0},{"p":"f","m":"F-SFM","x":70,"y":7.5},
{"p":"f","m":"SpecFit","x":-70,"y":21.5},{"p":"f","m":"SpecFit","x":-65,"y":20.9},{"p":"f","m":"SpecFit","x":-60,"y":19.4},{"p":"f","m":"SpecFit","x":-55,"y":16.4},{"p":"f","m":"SpecFit","x":-50,"y":12.7},{"p":"f","m":"SpecFit","x":-45,"y":11.8},{"p":"f","m":"SpecFit","x":-40,"y":11.7},{"p":"f","m":"SpecFit","x":-35,"y":10.2},{"p":"f","m":"SpecFit","x":-30,"y":11.0},{"p":"f","m":"SpecFit","x":-25,"y":9.3},{"p":"f","m":"SpecFit","x":-20,"y":9.5},{"p":"f","m":"SpecFit","x":-15,"y":9.6},{"p":"f","m":"SpecFit","x":-10,"y":9.2},{"p":"f","m":"SpecFit","x":-5,"y":8.2},{"p":"f","m":"SpecFit","x":0,"y":6.7},{"p":"f","m":"SpecFit","x":5,"y":5.6},{"p":"f","m":"SpecFit","x":10,"y":6.5},{"p":"f","m":"SpecFit","x":15,"y":6.5},{"p":"f","m":"SpecFit","x":20,"y":6.5},{"p":"f","m":"SpecFit","x":25,"y":7.2},{"p":"f","m":"SpecFit","x":30,"y":23.0},{"p":"f","m":"SpecFit","x":35,"y":7.8},{"p":"f","m":"SpecFit","x":40,"y":4.3},{"p":"f","m":"SpecFit","x":45,"y":6.7},{"p":"f","m":"SpecFit","x":50,"y":4.9},{"p":"f","m":"SpecFit","x":55,"y":6.0},{"p":"f","m":"SpecFit","x":60,"y":9.3},{"p":"f","m":"SpecFit","x":65,"y":11.6},{"p":"f","m":"SpecFit","x":70,"y":16.0},
{"p":"g","m":"aFSR","x":-70,"y":13.6},{"p":"g","m":"aFSR","x":-65,"y":9.5},{"p":"g","m":"aFSR","x":-60,"y":7.5},{"p":"g","m":"aFSR","x":-55,"y":9.7},{"p":"g","m":"aFSR","x":-50,"y":9.6},{"p":"g","m":"aFSR","x":-45,"y":7.5},{"p":"g","m":"aFSR","x":-40,"y":7.8},{"p":"g","m":"aFSR","x":-35,"y":8.4},{"p":"g","m":"aFSR","x":-30,"y":7.7},{"p":"g","m":"aFSR","x":-25,"y":7.5},{"p":"g","m":"aFSR","x":-20,"y":8.0},{"p":"g","m":"aFSR","x":-15,"y":6.7},{"p":"g","m":"aFSR","x":-10,"y":7.7},{"p":"g","m":"aFSR","x":-5,"y":7.3},{"p":"g","m":"aFSR","x":0,"y":7.3},{"p":"g","m":"aFSR","x":5,"y":7.1},{"p":"g","m":"aFSR","x":10,"y":6.3},{"p":"g","m":"aFSR","x":15,"y":7.8},{"p":"g","m":"aFSR","x":20,"y":8.0},{"p":"g","m":"aFSR","x":25,"y":7.6},{"p":"g","m":"aFSR","x":30,"y":11.6},{"p":"g","m":"aFSR","x":35,"y":10.8},{"p":"g","m":"aFSR","x":40,"y":7.3},{"p":"g","m":"aFSR","x":45,"y":7.1},{"p":"g","m":"aFSR","x":50,"y":10.1},{"p":"g","m":"aFSR","x":55,"y":8.2},{"p":"g","m":"aFSR","x":60,"y":9.3},{"p":"g","m":"aFSR","x":65,"y":8.4},{"p":"g","m":"aFSR","x":70,"y":9.7},
{"p":"g","m":"FSR","x":-70,"y":16.0},{"p":"g","m":"FSR","x":-65,"y":13.1},{"p":"g","m":"FSR","x":-60,"y":11.4},{"p":"g","m":"FSR","x":-55,"y":11.2},{"p":"g","m":"FSR","x":-50,"y":10.1},{"p":"g","m":"FSR","x":-45,"y":9.3},{"p":"g","m":"FSR","x":-40,"y":9.9},{"p":"g","m":"FSR","x":-35,"y":10.4},{"p":"g","m":"FSR","x":-30,"y":10.2},{"p":"g","m":"FSR","x":-25,"y":10.1},{"p":"g","m":"FSR","x":-20,"y":10.2},{"p":"g","m":"FSR","x":-15,"y":10.7},{"p":"g","m":"FSR","x":-10,"y":11.6},{"p":"g","m":"FSR","x":-5,"y":9.7},{"p":"g","m":"FSR","x":0,"y":10.8},{"p":"g","m":"FSR","x":5,"y":11.2},{"p":"g","m":"FSR","x":10,"y":14.2},{"p":"g","m":"FSR","x":15,"y":13.7},{"p":"g","m":"FSR","x":20,"y":14.3},{"p":"g","m":"FSR","x":25,"y":14.6},{"p":"g","m":"FSR","x":30,"y":26.5},{"p":"g","m":"FSR","x":35,"y":13.4},{"p":"g","m":"FSR","x":40,"y":12.2},{"p":"g","m":"FSR","x":45,"y":10.8},{"p":"g","m":"FSR","x":50,"y":11.2},{"p":"g","m":"FSR","x":55,"y":10.8},{"p":"g","m":"FSR","x":60,"y":10.3},{"p":"g","m":"FSR","x":65,"y":9.9},{"p":"g","m":"FSR","x":70,"y":9.5},
{"p":"g","m":"F-SFM","x":-70,"y":11.3},{"p":"g","m":"F-SFM","x":-65,"y":10.8},{"p":"g","m":"F-SFM","x":-60,"y":9.7},{"p":"g","m":"F-SFM","x":-55,"y":8.2},{"p":"g","m":"F-SFM","x":-50,"y":7.3},{"p":"g","m":"F-SFM","x":-45,"y":7.1},{"p":"g","m":"F-SFM","x":-40,"y":7.1},{"p":"g","m":"F-SFM","x":-35,"y":6.9},{"p":"g","m":"F-SFM","x":-30,"y":7.1},{"p":"g","m":"F-SFM","x":-25,"y":7.7},{"p":"g","m":"F-SFM","x":-20,"y":7.5},{"p":"g","m":"F-SFM","x":-15,"y":6.3},{"p":"g","m":"F-SFM","x":-10,"y":5.2},{"p":"g","m":"F-SFM","x":-5,"y":7.1},{"p":"g","m":"F-SFM","x":0,"y":9.0},{"p":"g","m":"F-SFM","x":5,"y":7.8},{"p":"g","m":"F-SFM","x":10,"y":9.9},{"p":"g","m":"F-SFM","x":15,"y":11.4},{"p":"g","m":"F-SFM","x":20,"y":11.7},{"p":"g","m":"F-SFM","x":25,"y":12.3},{"p":"g","m":"F-SFM","x":30,"y":16.4},{"p":"g","m":"F-SFM","x":35,"y":11.6},{"p":"g","m":"F-SFM","x":40,"y":7.6},{"p":"g","m":"F-SFM","x":45,"y":9.5},{"p":"g","m":"F-SFM","x":50,"y":12.7},{"p":"g","m":"F-SFM","x":55,"y":9.3},{"p":"g","m":"F-SFM","x":60,"y":6.3},{"p":"g","m":"F-SFM","x":65,"y":5.4},{"p":"g","m":"F-SFM","x":70,"y":4.9},
{"p":"g","m":"SpecFit","x":-70,"y":23.1},{"p":"g","m":"SpecFit","x":-65,"y":20.9},{"p":"g","m":"SpecFit","x":-60,"y":21.8},{"p":"g","m":"SpecFit","x":-55,"y":17.2},{"p":"g","m":"SpecFit","x":-50,"y":17.3},{"p":"g","m":"SpecFit","x":-45,"y":14.6},{"p":"g","m":"SpecFit","x":-40,"y":11.6},{"p":"g","m":"SpecFit","x":-35,"y":11.9},{"p":"g","m":"SpecFit","x":-30,"y":11.9},{"p":"g","m":"SpecFit","x":-25,"y":11.3},{"p":"g","m":"SpecFit","x":-20,"y":11.9},{"p":"g","m":"SpecFit","x":-15,"y":10.8},{"p":"g","m":"SpecFit","x":-10,"y":14.0},{"p":"g","m":"SpecFit","x":-5,"y":12.7},{"p":"g","m":"SpecFit","x":0,"y":9.7},{"p":"g","m":"SpecFit","x":5,"y":10.1},{"p":"g","m":"SpecFit","x":10,"y":10.6},{"p":"g","m":"SpecFit","x":15,"y":11.2},{"p":"g","m":"SpecFit","x":20,"y":12.1},{"p":"g","m":"SpecFit","x":25,"y":16.0},{"p":"g","m":"SpecFit","x":30,"y":27.1},{"p":"g","m":"SpecFit","x":35,"y":10.2},{"p":"g","m":"SpecFit","x":40,"y":9.5},{"p":"g","m":"SpecFit","x":45,"y":9.3},{"p":"g","m":"SpecFit","x":50,"y":9.3},{"p":"g","m":"SpecFit","x":55,"y":10.8},{"p":"g","m":"SpecFit","x":60,"y":11.9},{"p":"g","m":"SpecFit","x":65,"y":13.6},{"p":"g","m":"SpecFit","x":70,"y":15.3},
{"p":"h","m":"aFSR","x":-70,"y":9.1},{"p":"h","m":"aFSR","x":-65,"y":6.7},{"p":"h","m":"aFSR","x":-60,"y":9.3},{"p":"h","m":"aFSR","x":-55,"y":6.3},{"p":"h","m":"aFSR","x":-50,"y":4.7},{"p":"h","m":"aFSR","x":-45,"y":6.0},{"p":"h","m":"aFSR","x":-40,"y":14.0},{"p":"h","m":"aFSR","x":-35,"y":5.4},{"p":"h","m":"aFSR","x":-30,"y":15.3},{"p":"h","m":"aFSR","x":-25,"y":13.4},{"p":"h","m":"aFSR","x":-20,"y":8.6},{"p":"h","m":"aFSR","x":-15,"y":7.1},{"p":"h","m":"aFSR","x":-10,"y":7.6},{"p":"h","m":"aFSR","x":-5,"y":9.7},{"p":"h","m":"aFSR","x":0,"y":12.7},{"p":"h","m":"aFSR","x":5,"y":8.8},{"p":"h","m":"aFSR","x":10,"y":12.7},{"p":"h","m":"aFSR","x":15,"y":14.6},{"p":"h","m":"aFSR","x":20,"y":12.3},{"p":"h","m":"aFSR","x":25,"y":15.1},{"p":"h","m":"aFSR","x":30,"y":14.9},{"p":"h","m":"aFSR","x":35,"y":7.3},{"p":"h","m":"aFSR","x":40,"y":7.7},{"p":"h","m":"aFSR","x":45,"y":9.3},{"p":"h","m":"aFSR","x":50,"y":10.4},{"p":"h","m":"aFSR","x":55,"y":6.7},{"p":"h","m":"aFSR","x":60,"y":6.5},{"p":"h","m":"aFSR","x":65,"y":5.7},{"p":"h","m":"aFSR","x":70,"y":7.3},
{"p":"h","m":"FSR","x":-70,"y":18.4},{"p":"h","m":"FSR","x":-65,"y":16.4},{"p":"h","m":"FSR","x":-60,"y":15.4},{"p":"h","m":"FSR","x":-55,"y":12.5},{"p":"h","m":"FSR","x":-50,"y":14.6},{"p":"h","m":"FSR","x":-45,"y":16.0},{"p":"h","m":"FSR","x":-40,"y":16.4},{"p":"h","m":"FSR","x":-35,"y":13.8},{"p":"h","m":"FSR","x":-30,"y":17.5},{"p":"h","m":"FSR","x":-25,"y":13.4},{"p":"h","m":"FSR","x":-20,"y":13.0},{"p":"h","m":"FSR","x":-15,"y":13.0},{"p":"h","m":"FSR","x":-10,"y":11.2},{"p":"h","m":"FSR","x":-5,"y":20.7},{"p":"h","m":"FSR","x":0,"y":17.5},{"p":"h","m":"FSR","x":5,"y":16.8},{"p":"h","m":"FSR","x":10,"y":17.5},{"p":"h","m":"FSR","x":15,"y":17.1},{"p":"h","m":"FSR","x":20,"y":18.2},{"p":"h","m":"FSR","x":25,"y":22.5},{"p":"h","m":"FSR","x":30,"y":31.0},{"p":"h","m":"FSR","x":35,"y":11.7},{"p":"h","m":"FSR","x":40,"y":17.5},{"p":"h","m":"FSR","x":45,"y":15.7},{"p":"h","m":"FSR","x":50,"y":18.5},{"p":"h","m":"FSR","x":55,"y":11.9},{"p":"h","m":"FSR","x":60,"y":11.2},{"p":"h","m":"FSR","x":65,"y":10.7},{"p":"h","m":"FSR","x":70,"y":11.3},
{"p":"h","m":"F-SFM","x":-70,"y":11.9},{"p":"h","m":"F-SFM","x":-65,"y":10.8},{"p":"h","m":"F-SFM","x":-60,"y":10.4},{"p":"h","m":"F-SFM","x":-55,"y":9.3},{"p":"h","m":"F-SFM","x":-50,"y":13.8},{"p":"h","m":"F-SFM","x":-45,"y":10.8},{"p":"h","m":"F-SFM","x":-40,"y":18.3},{"p":"h","m":"F-SFM","x":-35,"y":11.9},{"p":"h","m":"F-SFM","x":-30,"y":16.0},{"p":"h","m":"F-SFM","x":-25,"y":16.4},{"p":"h","m":"F-SFM","x":-20,"y":15.7},{"p":"h","m":"F-SFM","x":-15,"y":14.9},{"p":"h","m":"F-SFM","x":-10,"y":11.6},{"p":"h","m":"F-SFM","x":-5,"y":18.5},{"p":"h","m":"F-SFM","x":0,"y":16.8},{"p":"h","m":"F-SFM","x":5,"y":14.2},{"p":"h","m":"F-SFM","x":10,"y":17.9},{"p":"h","m":"F-SFM","x":15,"y":17.5},{"p":"h","m":"F-SFM","x":20,"y":19.5},{"p":"h","m":"F-SFM","x":25,"y":22.0},{"p":"h","m":"F-SFM","x":30,"y":20.1},{"p":"h","m":"F-SFM","x":35,"y":13.4},{"p":"h","m":"F-SFM","x":40,"y":14.2},{"p":"h","m":"F-SFM","x":45,"y":11.6},{"p":"h","m":"F-SFM","x":50,"y":10.4},{"p":"h","m":"F-SFM","x":55,"y":8.0},{"p":"h","m":"F-SFM","x":60,"y":6.5},{"p":"h","m":"F-SFM","x":65,"y":8.2},{"p":"h","m":"F-SFM","x":70,"y":10.1},
{"p":"h","m":"SpecFit","x":-70,"y":23.1},{"p":"h","m":"SpecFit","x":-65,"y":20.4},{"p":"h","m":"SpecFit","x":-60,"y":17.3},{"p":"h","m":"SpecFit","x":-55,"y":15.4},{"p":"h","m":"SpecFit","x":-50,"y":15.3},{"p":"h","m":"SpecFit","x":-45,"y":12.3},{"p":"h","m":"SpecFit","x":-40,"y":14.9},{"p":"h","m":"SpecFit","x":-35,"y":11.2},{"p":"h","m":"SpecFit","x":-30,"y":24.9},{"p":"h","m":"SpecFit","x":-25,"y":27.5},{"p":"h","m":"SpecFit","x":-20,"y":27.5},{"p":"h","m":"SpecFit","x":-15,"y":14.6},{"p":"h","m":"SpecFit","x":-10,"y":21.6},{"p":"h","m":"SpecFit","x":-5,"y":25.0},{"p":"h","m":"SpecFit","x":0,"y":27.5},{"p":"h","m":"SpecFit","x":5,"y":21.3},{"p":"h","m":"SpecFit","x":10,"y":23.1},{"p":"h","m":"SpecFit","x":15,"y":24.3},{"p":"h","m":"SpecFit","x":20,"y":25.0},{"p":"h","m":"SpecFit","x":25,"y":28.7},{"p":"h","m":"SpecFit","x":30,"y":47.0},{"p":"h","m":"SpecFit","x":35,"y":16.8},{"p":"h","m":"SpecFit","x":40,"y":16.9},{"p":"h","m":"SpecFit","x":45,"y":15.3},{"p":"h","m":"SpecFit","x":50,"y":11.6},{"p":"h","m":"SpecFit","x":55,"y":8.7},{"p":"h","m":"SpecFit","x":60,"y":11.4},{"p":"h","m":"SpecFit","x":65,"y":12.3},{"p":"h","m":"SpecFit","x":70,"y":14.2}
]},
"data":{"name":"rr"},
"columns":4,
"spacing":{"row":88,"column":12},
"bounds":"flush",
"concat":[
{"width":243,"height":223,"layer":[
 {"transform":[{"filter":"datum.p=='a'"}],"mark":{"type":"line","strokeWidth":2.4},"encoding":{"x":{"field":"x","type":"quantitative","scale":{"domain":[-75,75],"nice":false},"axis":{"orient":"bottom","values":[-70,-50,-25,0,25,50,70],"title":"Viewing zenith angle (°)"}},"y":{"field":"y","type":"quantitative","scale":{"domain":[0,50],"nice":false},"axis":{"orient":"left","values":[0,10,20,30,40,50],"title":"RRMSE (%)"}},"color":{"field":"m","type":"nominal","title":null,"legend":{"symbolType":"M-2.4,0H2.4"},"scale":{"domain":["aFSR","FSR","F-SFM","SpecFit"],"range":["#2e3192","#f01e28","#000000","#1ab2ee"]}},"strokeDash":{"field":"m","type":"nominal","title":null,"legend":{"symbolType":"M-2.4,0H2.4"},"scale":{"domain":["aFSR","FSR","F-SFM","SpecFit"],"range":[[1,0],[8,5],[2.2,1.8],[8,3,2,3]]}}}},
 {"transform":[{"filter":"datum.p=='a'"}],"mark":{"type":"line","opacity":0},"encoding":{"x":{"field":"x","type":"quantitative","scale":{"domain":[-75,75],"nice":false},"axis":{"orient":"top","values":[-70,-50,-25,0,25,50,70],"labels":false,"title":null}},"y":{"field":"y","type":"quantitative","scale":{"domain":[0,50],"nice":false},"axis":{"orient":"right","values":[0,10,20,30,40,50],"labels":false,"title":null}}}},
 {"data":{"name":"titles"},"transform":[{"filter":"datum.p=='a'"}],"mark":{"type":"text","font":"Liberation Sans","fontSize":25,"align":"left","baseline":"alphabetic"},"encoding":{"x":{"datum":-67,"axis":null,"scale":{"domain":[-75,75],"nice":false}},"y":{"datum":51.7,"axis":null,"scale":{"domain":[0,50],"nice":false}},"text":{"field":"p"}}},
 {"data":{"name":"titles"},"transform":[{"filter":"datum.p=='a'"}],"mark":{"type":"text","font":"Liberation Serif","fontSize":24,"align":"right","baseline":"alphabetic"},"encoding":{"x":{"datum":25.6,"axis":null,"scale":{"domain":[-75,75],"nice":false}},"y":{"datum":52.5,"axis":null,"scale":{"domain":[0,50],"nice":false}},"text":{"field":"t"}}},
 {"data":{"name":"titles"},"transform":[{"filter":"datum.p=='a'"}],"mark":{"type":"text","font":"Liberation Serif","fontSize":15,"align":"left","baseline":"alphabetic"},"encoding":{"x":{"datum":26.0,"axis":null,"scale":{"domain":[-75,75],"nice":false}},"y":{"datum":52.1,"axis":null,"scale":{"domain":[0,50],"nice":false}},"text":{"field":"s"}}},
 {"data":{"name":"titles"},"transform":[{"filter":"datum.p=='a'"}],"mark":{"type":"text","font":"Liberation Serif","fontSize":24,"align":"left","baseline":"alphabetic"},"encoding":{"x":{"datum":35.5,"axis":null,"scale":{"domain":[-75,75],"nice":false}},"y":{"datum":52.5,"axis":null,"scale":{"domain":[0,50],"nice":false}},"text":{"field":"n"}}}
],"resolve":{"axis":{"x":"independent","y":"independent"}}},
{"width":243,"height":223,"layer":[
 {"transform":[{"filter":"datum.p=='b'"}],"mark":{"type":"line","strokeWidth":2.4},"encoding":{"x":{"field":"x","type":"quantitative","scale":{"domain":[-75,75],"nice":false},"axis":{"orient":"bottom","values":[-70,-50,-25,0,25,50,70],"title":"Viewing zenith angle (°)"}},"y":{"field":"y","type":"quantitative","scale":{"domain":[0,50],"nice":false},"axis":{"orient":"left","values":[0,10,20,30,40,50],"labels":false,"title":null}},"color":{"field":"m","type":"nominal","title":null,"legend":{"symbolType":"M-2.4,0H2.4"},"scale":{"domain":["aFSR","FSR","F-SFM","SpecFit"],"range":["#2e3192","#f01e28","#000000","#1ab2ee"]}},"strokeDash":{"field":"m","type":"nominal","title":null,"legend":{"symbolType":"M-2.4,0H2.4"},"scale":{"domain":["aFSR","FSR","F-SFM","SpecFit"],"range":[[1,0],[8,5],[2.2,1.8],[8,3,2,3]]}}}},
 {"transform":[{"filter":"datum.p=='b'"}],"mark":{"type":"line","opacity":0},"encoding":{"x":{"field":"x","type":"quantitative","scale":{"domain":[-75,75],"nice":false},"axis":{"orient":"top","values":[-70,-50,-25,0,25,50,70],"labels":false,"title":null}},"y":{"field":"y","type":"quantitative","scale":{"domain":[0,50],"nice":false},"axis":{"orient":"right","values":[0,10,20,30,40,50],"labels":false,"title":null}}}},
 {"data":{"name":"titles"},"transform":[{"filter":"datum.p=='b'"}],"mark":{"type":"text","font":"Liberation Sans","fontSize":25,"align":"left","baseline":"alphabetic"},"encoding":{"x":{"datum":-67,"axis":null,"scale":{"domain":[-75,75],"nice":false}},"y":{"datum":51.7,"axis":null,"scale":{"domain":[0,50],"nice":false}},"text":{"field":"p"}}},
 {"data":{"name":"titles"},"transform":[{"filter":"datum.p=='b'"}],"mark":{"type":"text","font":"Liberation Serif","fontSize":24,"align":"right","baseline":"alphabetic"},"encoding":{"x":{"datum":25.6,"axis":null,"scale":{"domain":[-75,75],"nice":false}},"y":{"datum":52.5,"axis":null,"scale":{"domain":[0,50],"nice":false}},"text":{"field":"t"}}},
 {"data":{"name":"titles"},"transform":[{"filter":"datum.p=='b'"}],"mark":{"type":"text","font":"Liberation Serif","fontSize":15,"align":"left","baseline":"alphabetic"},"encoding":{"x":{"datum":26.0,"axis":null,"scale":{"domain":[-75,75],"nice":false}},"y":{"datum":52.1,"axis":null,"scale":{"domain":[0,50],"nice":false}},"text":{"field":"s"}}},
 {"data":{"name":"titles"},"transform":[{"filter":"datum.p=='b'"}],"mark":{"type":"text","font":"Liberation Serif","fontSize":24,"align":"left","baseline":"alphabetic"},"encoding":{"x":{"datum":35.5,"axis":null,"scale":{"domain":[-75,75],"nice":false}},"y":{"datum":52.5,"axis":null,"scale":{"domain":[0,50],"nice":false}},"text":{"field":"n"}}}
],"resolve":{"axis":{"x":"independent","y":"independent"}}},
{"width":243,"height":223,"layer":[
 {"transform":[{"filter":"datum.p=='c'"}],"mark":{"type":"line","strokeWidth":2.4},"encoding":{"x":{"field":"x","type":"quantitative","scale":{"domain":[-75,75],"nice":false},"axis":{"orient":"bottom","values":[-70,-50,-25,0,25,50,70],"title":"Viewing zenith angle (°)"}},"y":{"field":"y","type":"quantitative","scale":{"domain":[0,50],"nice":false},"axis":{"orient":"left","values":[0,10,20,30,40,50],"labels":false,"title":null}},"color":{"field":"m","type":"nominal","title":null,"legend":{"symbolType":"M-2.4,0H2.4"},"scale":{"domain":["aFSR","FSR","F-SFM","SpecFit"],"range":["#2e3192","#f01e28","#000000","#1ab2ee"]}},"strokeDash":{"field":"m","type":"nominal","title":null,"legend":{"symbolType":"M-2.4,0H2.4"},"scale":{"domain":["aFSR","FSR","F-SFM","SpecFit"],"range":[[1,0],[8,5],[2.2,1.8],[8,3,2,3]]}}}},
 {"transform":[{"filter":"datum.p=='c'"}],"mark":{"type":"line","opacity":0},"encoding":{"x":{"field":"x","type":"quantitative","scale":{"domain":[-75,75],"nice":false},"axis":{"orient":"top","values":[-70,-50,-25,0,25,50,70],"labels":false,"title":null}},"y":{"field":"y","type":"quantitative","scale":{"domain":[0,50],"nice":false},"axis":{"orient":"right","values":[0,10,20,30,40,50],"labels":false,"title":null}}}},
 {"data":{"name":"titles"},"transform":[{"filter":"datum.p=='c'"}],"mark":{"type":"text","font":"Liberation Sans","fontSize":25,"align":"left","baseline":"alphabetic"},"encoding":{"x":{"datum":-67,"axis":null,"scale":{"domain":[-75,75],"nice":false}},"y":{"datum":51.7,"axis":null,"scale":{"domain":[0,50],"nice":false}},"text":{"field":"p"}}},
 {"data":{"name":"titles"},"transform":[{"filter":"datum.p=='c'"}],"mark":{"type":"text","font":"Liberation Serif","fontSize":24,"align":"right","baseline":"alphabetic"},"encoding":{"x":{"datum":25.6,"axis":null,"scale":{"domain":[-75,75],"nice":false}},"y":{"datum":52.5,"axis":null,"scale":{"domain":[0,50],"nice":false}},"text":{"field":"t"}}},
 {"data":{"name":"titles"},"transform":[{"filter":"datum.p=='c'"}],"mark":{"type":"text","font":"Liberation Serif","fontSize":15,"align":"left","baseline":"alphabetic"},"encoding":{"x":{"datum":26.0,"axis":null,"scale":{"domain":[-75,75],"nice":false}},"y":{"datum":52.1,"axis":null,"scale":{"domain":[0,50],"nice":false}},"text":{"field":"s"}}},
 {"data":{"name":"titles"},"transform":[{"filter":"datum.p=='c'"}],"mark":{"type":"text","font":"Liberation Serif","fontSize":24,"align":"left","baseline":"alphabetic"},"encoding":{"x":{"datum":35.5,"axis":null,"scale":{"domain":[-75,75],"nice":false}},"y":{"datum":52.5,"axis":null,"scale":{"domain":[0,50],"nice":false}},"text":{"field":"n"}}}
],"resolve":{"axis":{"x":"independent","y":"independent"}}},
{"width":243,"height":223,"layer":[
 {"transform":[{"filter":"datum.p=='d'"}],"mark":{"type":"line","strokeWidth":2.4},"encoding":{"x":{"field":"x","type":"quantitative","scale":{"domain":[-75,75],"nice":false},"axis":{"orient":"bottom","values":[-70,-50,-25,0,25,50,70],"title":"Viewing zenith angle (°)"}},"y":{"field":"y","type":"quantitative","scale":{"domain":[0,50],"nice":false},"axis":{"orient":"left","values":[0,10,20,30,40,50],"labels":false,"title":null}},"color":{"field":"m","type":"nominal","title":null,"legend":{"symbolType":"M-2.4,0H2.4"},"scale":{"domain":["aFSR","FSR","F-SFM","SpecFit"],"range":["#2e3192","#f01e28","#000000","#1ab2ee"]}},"strokeDash":{"field":"m","type":"nominal","title":null,"legend":{"symbolType":"M-2.4,0H2.4"},"scale":{"domain":["aFSR","FSR","F-SFM","SpecFit"],"range":[[1,0],[8,5],[2.2,1.8],[8,3,2,3]]}}}},
 {"transform":[{"filter":"datum.p=='d'"}],"mark":{"type":"line","opacity":0},"encoding":{"x":{"field":"x","type":"quantitative","scale":{"domain":[-75,75],"nice":false},"axis":{"orient":"top","values":[-70,-50,-25,0,25,50,70],"labels":false,"title":null}},"y":{"field":"y","type":"quantitative","scale":{"domain":[0,50],"nice":false},"axis":{"orient":"right","values":[0,10,20,30,40,50],"labels":false,"title":null}}}},
 {"data":{"name":"titles"},"transform":[{"filter":"datum.p=='d'"}],"mark":{"type":"text","font":"Liberation Sans","fontSize":25,"align":"left","baseline":"alphabetic"},"encoding":{"x":{"datum":-67,"axis":null,"scale":{"domain":[-75,75],"nice":false}},"y":{"datum":51.7,"axis":null,"scale":{"domain":[0,50],"nice":false}},"text":{"field":"p"}}},
 {"data":{"name":"titles"},"transform":[{"filter":"datum.p=='d'"}],"mark":{"type":"text","font":"Liberation Serif","fontSize":24,"align":"right","baseline":"alphabetic"},"encoding":{"x":{"datum":25.6,"axis":null,"scale":{"domain":[-75,75],"nice":false}},"y":{"datum":52.5,"axis":null,"scale":{"domain":[0,50],"nice":false}},"text":{"field":"t"}}},
 {"data":{"name":"titles"},"transform":[{"filter":"datum.p=='d'"}],"mark":{"type":"text","font":"Liberation Serif","fontSize":15,"align":"left","baseline":"alphabetic"},"encoding":{"x":{"datum":26.0,"axis":null,"scale":{"domain":[-75,75],"nice":false}},"y":{"datum":52.1,"axis":null,"scale":{"domain":[0,50],"nice":false}},"text":{"field":"s"}}},
 {"data":{"name":"titles"},"transform":[{"filter":"datum.p=='d'"}],"mark":{"type":"text","font":"Liberation Serif","fontSize":24,"align":"left","baseline":"alphabetic"},"encoding":{"x":{"datum":35.5,"axis":null,"scale":{"domain":[-75,75],"nice":false}},"y":{"datum":52.5,"axis":null,"scale":{"domain":[0,50],"nice":false}},"text":{"field":"n"}}}
],"resolve":{"axis":{"x":"independent","y":"independent"}}},
{"width":243,"height":223,"layer":[
 {"transform":[{"filter":"datum.p=='e'"}],"mark":{"type":"line","strokeWidth":2.4},"encoding":{"x":{"field":"x","type":"quantitative","scale":{"domain":[-75,75],"nice":false},"axis":{"orient":"bottom","values":[-70,-50,-25,0,25,50,70],"title":"Viewing zenith angle (°)"}},"y":{"field":"y","type":"quantitative","scale":{"domain":[0,50],"nice":false},"axis":{"orient":"left","values":[0,10,20,30,40,50],"title":"RRMSE (%)"}},"color":{"field":"m","type":"nominal","title":null,"legend":{"symbolType":"M-2.4,0H2.4"},"scale":{"domain":["aFSR","FSR","F-SFM","SpecFit"],"range":["#2e3192","#f01e28","#000000","#1ab2ee"]}},"strokeDash":{"field":"m","type":"nominal","title":null,"legend":{"symbolType":"M-2.4,0H2.4"},"scale":{"domain":["aFSR","FSR","F-SFM","SpecFit"],"range":[[1,0],[8,5],[2.2,1.8],[8,3,2,3]]}}}},
 {"transform":[{"filter":"datum.p=='e'"}],"mark":{"type":"line","opacity":0},"encoding":{"x":{"field":"x","type":"quantitative","scale":{"domain":[-75,75],"nice":false},"axis":{"orient":"top","values":[-70,-50,-25,0,25,50,70],"labels":false,"title":null}},"y":{"field":"y","type":"quantitative","scale":{"domain":[0,50],"nice":false},"axis":{"orient":"right","values":[0,10,20,30,40,50],"labels":false,"title":null}}}},
 {"data":{"name":"titles"},"transform":[{"filter":"datum.p=='e'"}],"mark":{"type":"text","font":"Liberation Sans","fontSize":25,"align":"left","baseline":"alphabetic"},"encoding":{"x":{"datum":-67,"axis":null,"scale":{"domain":[-75,75],"nice":false}},"y":{"datum":51.7,"axis":null,"scale":{"domain":[0,50],"nice":false}},"text":{"field":"p"}}},
 {"data":{"name":"titles"},"transform":[{"filter":"datum.p=='e'"}],"mark":{"type":"text","font":"Liberation Serif","fontSize":24,"align":"right","baseline":"alphabetic"},"encoding":{"x":{"datum":25.6,"axis":null,"scale":{"domain":[-75,75],"nice":false}},"y":{"datum":52.5,"axis":null,"scale":{"domain":[0,50],"nice":false}},"text":{"field":"t"}}},
 {"data":{"name":"titles"},"transform":[{"filter":"datum.p=='e'"}],"mark":{"type":"text","font":"Liberation Serif","fontSize":15,"align":"left","baseline":"alphabetic"},"encoding":{"x":{"datum":26.0,"axis":null,"scale":{"domain":[-75,75],"nice":false}},"y":{"datum":52.1,"axis":null,"scale":{"domain":[0,50],"nice":false}},"text":{"field":"s"}}},
 {"data":{"name":"titles"},"transform":[{"filter":"datum.p=='e'"}],"mark":{"type":"text","font":"Liberation Serif","fontSize":24,"align":"left","baseline":"alphabetic"},"encoding":{"x":{"datum":35.5,"axis":null,"scale":{"domain":[-75,75],"nice":false}},"y":{"datum":52.5,"axis":null,"scale":{"domain":[0,50],"nice":false}},"text":{"field":"n"}}}
],"resolve":{"axis":{"x":"independent","y":"independent"}}},
{"width":243,"height":223,"layer":[
 {"transform":[{"filter":"datum.p=='f'"}],"mark":{"type":"line","strokeWidth":2.4},"encoding":{"x":{"field":"x","type":"quantitative","scale":{"domain":[-75,75],"nice":false},"axis":{"orient":"bottom","values":[-70,-50,-25,0,25,50,70],"title":"Viewing zenith angle (°)"}},"y":{"field":"y","type":"quantitative","scale":{"domain":[0,50],"nice":false},"axis":{"orient":"left","values":[0,10,20,30,40,50],"labels":false,"title":null}},"color":{"field":"m","type":"nominal","title":null,"legend":{"symbolType":"M-2.4,0H2.4"},"scale":{"domain":["aFSR","FSR","F-SFM","SpecFit"],"range":["#2e3192","#f01e28","#000000","#1ab2ee"]}},"strokeDash":{"field":"m","type":"nominal","title":null,"legend":{"symbolType":"M-2.4,0H2.4"},"scale":{"domain":["aFSR","FSR","F-SFM","SpecFit"],"range":[[1,0],[8,5],[2.2,1.8],[8,3,2,3]]}}}},
 {"transform":[{"filter":"datum.p=='f'"}],"mark":{"type":"line","opacity":0},"encoding":{"x":{"field":"x","type":"quantitative","scale":{"domain":[-75,75],"nice":false},"axis":{"orient":"top","values":[-70,-50,-25,0,25,50,70],"labels":false,"title":null}},"y":{"field":"y","type":"quantitative","scale":{"domain":[0,50],"nice":false},"axis":{"orient":"right","values":[0,10,20,30,40,50],"labels":false,"title":null}}}},
 {"data":{"name":"titles"},"transform":[{"filter":"datum.p=='f'"}],"mark":{"type":"text","font":"Liberation Sans","fontSize":25,"align":"left","baseline":"alphabetic"},"encoding":{"x":{"datum":-67,"axis":null,"scale":{"domain":[-75,75],"nice":false}},"y":{"datum":51.7,"axis":null,"scale":{"domain":[0,50],"nice":false}},"text":{"field":"p"}}},
 {"data":{"name":"titles"},"transform":[{"filter":"datum.p=='f'"}],"mark":{"type":"text","font":"Liberation Serif","fontSize":24,"align":"right","baseline":"alphabetic"},"encoding":{"x":{"datum":25.6,"axis":null,"scale":{"domain":[-75,75],"nice":false}},"y":{"datum":52.5,"axis":null,"scale":{"domain":[0,50],"nice":false}},"text":{"field":"t"}}},
 {"data":{"name":"titles"},"transform":[{"filter":"datum.p=='f'"}],"mark":{"type":"text","font":"Liberation Serif","fontSize":15,"align":"left","baseline":"alphabetic"},"encoding":{"x":{"datum":26.0,"axis":null,"scale":{"domain":[-75,75],"nice":false}},"y":{"datum":52.1,"axis":null,"scale":{"domain":[0,50],"nice":false}},"text":{"field":"s"}}},
 {"data":{"name":"titles"},"transform":[{"filter":"datum.p=='f'"}],"mark":{"type":"text","font":"Liberation Serif","fontSize":24,"align":"left","baseline":"alphabetic"},"encoding":{"x":{"datum":35.5,"axis":null,"scale":{"domain":[-75,75],"nice":false}},"y":{"datum":52.5,"axis":null,"scale":{"domain":[0,50],"nice":false}},"text":{"field":"n"}}}
],"resolve":{"axis":{"x":"independent","y":"independent"}}},
{"width":243,"height":223,"layer":[
 {"transform":[{"filter":"datum.p=='g'"}],"mark":{"type":"line","strokeWidth":2.4},"encoding":{"x":{"field":"x","type":"quantitative","scale":{"domain":[-75,75],"nice":false},"axis":{"orient":"bottom","values":[-70,-50,-25,0,25,50,70],"title":"Viewing zenith angle (°)"}},"y":{"field":"y","type":"quantitative","scale":{"domain":[0,50],"nice":false},"axis":{"orient":"left","values":[0,10,20,30,40,50],"labels":false,"title":null}},"color":{"field":"m","type":"nominal","title":null,"legend":{"symbolType":"M-2.4,0H2.4"},"scale":{"domain":["aFSR","FSR","F-SFM","SpecFit"],"range":["#2e3192","#f01e28","#000000","#1ab2ee"]}},"strokeDash":{"field":"m","type":"nominal","title":null,"legend":{"symbolType":"M-2.4,0H2.4"},"scale":{"domain":["aFSR","FSR","F-SFM","SpecFit"],"range":[[1,0],[8,5],[2.2,1.8],[8,3,2,3]]}}}},
 {"transform":[{"filter":"datum.p=='g'"}],"mark":{"type":"line","opacity":0},"encoding":{"x":{"field":"x","type":"quantitative","scale":{"domain":[-75,75],"nice":false},"axis":{"orient":"top","values":[-70,-50,-25,0,25,50,70],"labels":false,"title":null}},"y":{"field":"y","type":"quantitative","scale":{"domain":[0,50],"nice":false},"axis":{"orient":"right","values":[0,10,20,30,40,50],"labels":false,"title":null}}}},
 {"data":{"name":"titles"},"transform":[{"filter":"datum.p=='g'"}],"mark":{"type":"text","font":"Liberation Sans","fontSize":25,"align":"left","baseline":"alphabetic"},"encoding":{"x":{"datum":-67,"axis":null,"scale":{"domain":[-75,75],"nice":false}},"y":{"datum":51.7,"axis":null,"scale":{"domain":[0,50],"nice":false}},"text":{"field":"p"}}},
 {"data":{"name":"titles"},"transform":[{"filter":"datum.p=='g'"}],"mark":{"type":"text","font":"Liberation Serif","fontSize":24,"align":"right","baseline":"alphabetic"},"encoding":{"x":{"datum":25.6,"axis":null,"scale":{"domain":[-75,75],"nice":false}},"y":{"datum":52.5,"axis":null,"scale":{"domain":[0,50],"nice":false}},"text":{"field":"t"}}},
 {"data":{"name":"titles"},"transform":[{"filter":"datum.p=='g'"}],"mark":{"type":"text","font":"Liberation Serif","fontSize":15,"align":"left","baseline":"alphabetic"},"encoding":{"x":{"datum":26.0,"axis":null,"scale":{"domain":[-75,75],"nice":false}},"y":{"datum":52.1,"axis":null,"scale":{"domain":[0,50],"nice":false}},"text":{"field":"s"}}},
 {"data":{"name":"titles"},"transform":[{"filter":"datum.p=='g'"}],"mark":{"type":"text","font":"Liberation Serif","fontSize":24,"align":"left","baseline":"alphabetic"},"encoding":{"x":{"datum":35.5,"axis":null,"scale":{"domain":[-75,75],"nice":false}},"y":{"datum":52.5,"axis":null,"scale":{"domain":[0,50],"nice":false}},"text":{"field":"n"}}}
],"resolve":{"axis":{"x":"independent","y":"independent"}}},
{"width":243,"height":223,"layer":[
 {"transform":[{"filter":"datum.p=='h'"}],"mark":{"type":"line","strokeWidth":2.4},"encoding":{"x":{"field":"x","type":"quantitative","scale":{"domain":[-75,75],"nice":false},"axis":{"orient":"bottom","values":[-70,-50,-25,0,25,50,70],"title":"Viewing zenith angle (°)"}},"y":{"field":"y","type":"quantitative","scale":{"domain":[0,50],"nice":false},"axis":{"orient":"left","values":[0,10,20,30,40,50],"labels":false,"title":null}},"color":{"field":"m","type":"nominal","title":null,"legend":{"symbolType":"M-2.4,0H2.4"},"scale":{"domain":["aFSR","FSR","F-SFM","SpecFit"],"range":["#2e3192","#f01e28","#000000","#1ab2ee"]}},"strokeDash":{"field":"m","type":"nominal","title":null,"legend":{"symbolType":"M-2.4,0H2.4"},"scale":{"domain":["aFSR","FSR","F-SFM","SpecFit"],"range":[[1,0],[8,5],[2.2,1.8],[8,3,2,3]]}}}},
 {"transform":[{"filter":"datum.p=='h'"}],"mark":{"type":"line","opacity":0},"encoding":{"x":{"field":"x","type":"quantitative","scale":{"domain":[-75,75],"nice":false},"axis":{"orient":"top","values":[-70,-50,-25,0,25,50,70],"labels":false,"title":null}},"y":{"field":"y","type":"quantitative","scale":{"domain":[0,50],"nice":false},"axis":{"orient":"right","values":[0,10,20,30,40,50],"labels":false,"title":null}}}},
 {"data":{"name":"titles"},"transform":[{"filter":"datum.p=='h'"}],"mark":{"type":"text","font":"Liberation Sans","fontSize":25,"align":"left","baseline":"alphabetic"},"encoding":{"x":{"datum":-67,"axis":null,"scale":{"domain":[-75,75],"nice":false}},"y":{"datum":51.7,"axis":null,"scale":{"domain":[0,50],"nice":false}},"text":{"field":"p"}}},
 {"data":{"name":"titles"},"transform":[{"filter":"datum.p=='h'"}],"mark":{"type":"text","font":"Liberation Serif","fontSize":24,"align":"right","baseline":"alphabetic"},"encoding":{"x":{"datum":25.6,"axis":null,"scale":{"domain":[-75,75],"nice":false}},"y":{"datum":52.5,"axis":null,"scale":{"domain":[0,50],"nice":false}},"text":{"field":"t"}}},
 {"data":{"name":"titles"},"transform":[{"filter":"datum.p=='h'"}],"mark":{"type":"text","font":"Liberation Serif","fontSize":15,"align":"left","baseline":"alphabetic"},"encoding":{"x":{"datum":26.0,"axis":null,"scale":{"domain":[-75,75],"nice":false}},"y":{"datum":52.1,"axis":null,"scale":{"domain":[0,50],"nice":false}},"text":{"field":"s"}}},
 {"data":{"name":"titles"},"transform":[{"filter":"datum.p=='h'"}],"mark":{"type":"text","font":"Liberation Serif","fontSize":24,"align":"left","baseline":"alphabetic"},"encoding":{"x":{"datum":35.5,"axis":null,"scale":{"domain":[-75,75],"nice":false}},"y":{"datum":52.5,"axis":null,"scale":{"domain":[0,50],"nice":false}},"text":{"field":"n"}}}
],"resolve":{"axis":{"x":"independent","y":"independent"}}}
],
"config":{
 "font":"Liberation Serif",
 "view":{"stroke":"black","strokeWidth":1},
 "axis":{"grid":false,"domain":false,"tickColor":"black","tickWidth":1,"tickSize":-4,"labelFont":"Liberation Serif","labelFontSize":17,"labelColor":"black","titleFont":"Liberation Serif","titleFontSize":21,"titleFontWeight":"normal","titleColor":"black","labelExpr":"replace(datum.label, '−', '-')"},
 "axisBottom":{"labelPadding":17,"titlePadding":8},
 "axisLeft":{"labelPadding":15,"titlePadding":4},
 "legend":{"orient":"none","legendX":306,"legendY":24,"symbolSize":256,"symbolOffset":10,"symbolStrokeWidth":2.5,"labelFont":"Liberation Serif","labelFontSize":17,"labelColor":"black","labelOffset":22,"rowPadding":2,"strokeColor":"#777777","fillColor":"white","padding":4}
}
}
